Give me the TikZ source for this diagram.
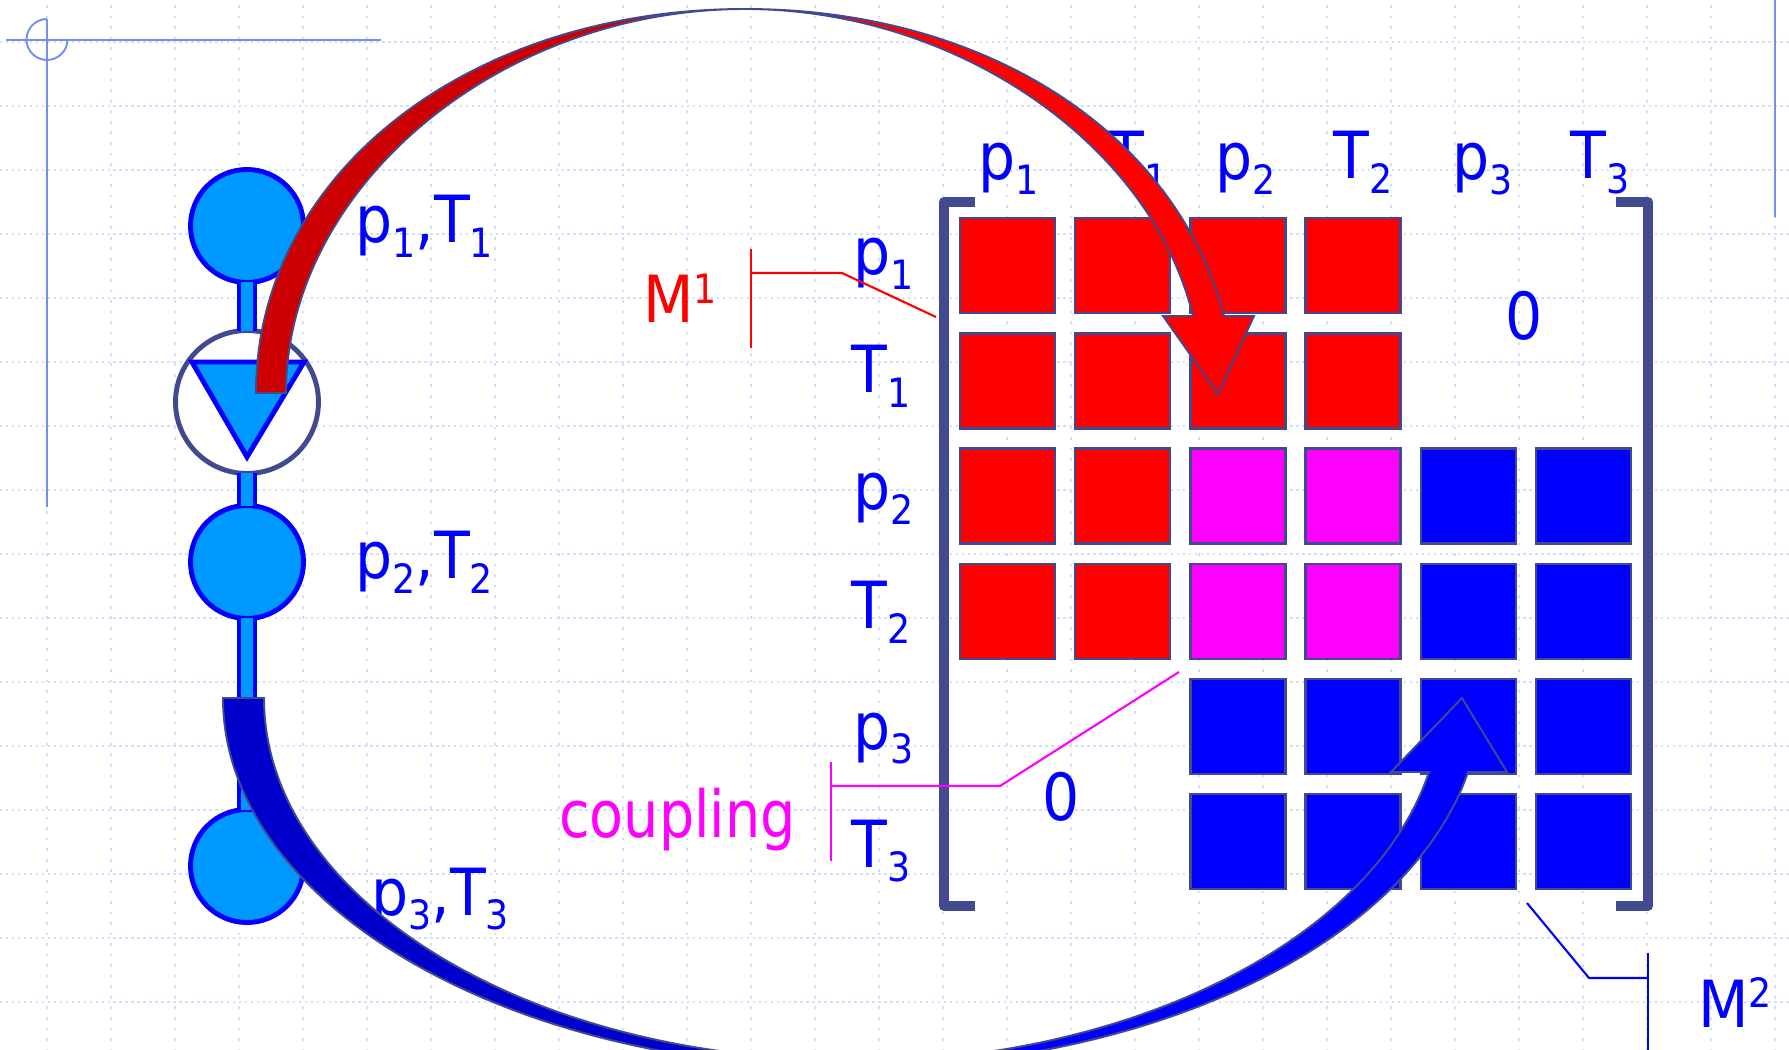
\documentclass[tikz,border=0pt]{standalone}
\usepackage{fontspec}
\setmainfont{DejaVu Sans Condensed}
\newfontfamily\tightFont[FakeStretch=0.95]{DejaVu Sans Condensed}
\definecolor{pipeBlue}{HTML}{0099FF}
\definecolor{edgeNavy}{HTML}{424A8F}
\definecolor{gridBlue}{HTML}{D2DEFF}
\definecolor{cornerBlue}{HTML}{7390F0}
\definecolor{darkRed}{HTML}{CC0000}
\definecolor{darkBlue}{HTML}{0000CC}
\definecolor{pureMagenta}{HTML}{FF00FF}
\newcommand{\sbs}[1]{\raisebox{-8.5pt}{\fontsize{23pt}{23pt}\selectfont #1}}
\newcommand{\sps}[1]{\raisebox{11pt}{\fontsize{23pt}{23pt}\selectfont #1}}
\begin{document}
\begin{tikzpicture}
[x=0.02cm,y=-0.02cm,
gridH/.style={gridBlue,line width=1.1pt,dash pattern=on 1.4pt off 2pt},
gridV/.style={gridBlue,line width=1.1pt,dash pattern=on 1.5pt off 4.5pt},
corner/.style={cornerBlue,line width=1.1pt},
station/.style={circle,draw=blue,fill=pipeBlue,line width=2.8pt,minimum size=2.26cm,inner sep=0pt,outer sep=0pt},
pump/.style={circle,draw=edgeNavy,fill=white,line width=2.8pt,minimum size=2.86cm,inner sep=0pt,outer sep=0pt},
pipe/.style={draw=blue,line width=2.3pt,double=pipeBlue,double distance=7pt},
valve/.style={draw=blue,fill=pipeBlue,line width=2.8pt,line join=miter},
tag/.style={text=blue,anchor=base west,inner sep=0pt,font=\fontsize{37pt}{37pt}\selectfont},
redCell/.style={draw=edgeNavy,fill=red,line width=1.2pt,minimum size=1.9cm,inner sep=0pt},
mixCell/.style={redCell,fill=pureMagenta},
blueCell/.style={redCell,fill=blue},
bracket/.style={edgeNavy,line width=5.8pt,line join=round},
callout/.style={line width=1.2pt},
swoosh/.style={draw=edgeNavy,line width=1.1pt,line join=miter}]
\useasboundingbox (0,0) rectangle (1789,1050);
\clip (0,0) rectangle (1789,1050);
\draw[gridH] (0,42) -- (1789,42);
\draw[gridH] (0,106) -- (1789,106);
\draw[gridH] (0,170) -- (1789,170);
\draw[gridH] (0,234) -- (1789,234);
\draw[gridH] (0,298) -- (1789,298);
\draw[gridH] (0,362) -- (1789,362);
\draw[gridH] (0,426) -- (1789,426);
\draw[gridH] (0,490) -- (1789,490);
\draw[gridH] (0,554) -- (1789,554);
\draw[gridH] (0,618) -- (1789,618);
\draw[gridH] (0,682) -- (1789,682);
\draw[gridH] (0,746) -- (1789,746);
\draw[gridH] (0,810) -- (1789,810);
\draw[gridH] (0,874) -- (1789,874);
\draw[gridH] (0,938) -- (1789,938);
\draw[gridH] (0,1002) -- (1789,1002);
\draw[gridV] (47,5) -- (47,1050);
\draw[gridV] (111,5) -- (111,1050);
\draw[gridV] (175,5) -- (175,1050);
\draw[gridV] (239,5) -- (239,1050);
\draw[gridV] (303,5) -- (303,1050);
\draw[gridV] (367,5) -- (367,1050);
\draw[gridV] (431,5) -- (431,1050);
\draw[gridV] (495,5) -- (495,1050);
\draw[gridV] (559,5) -- (559,1050);
\draw[gridV] (623,5) -- (623,1050);
\draw[gridV] (687,5) -- (687,1050);
\draw[gridV] (751,5) -- (751,1050);
\draw[gridV] (815,5) -- (815,1050);
\draw[gridV] (879,5) -- (879,1050);
\draw[gridV] (943,5) -- (943,1050);
\draw[gridV] (1007,5) -- (1007,1050);
\draw[gridV] (1071,5) -- (1071,1050);
\draw[gridV] (1135,5) -- (1135,1050);
\draw[gridV] (1199,5) -- (1199,1050);
\draw[gridV] (1263,5) -- (1263,1050);
\draw[gridV] (1327,5) -- (1327,1050);
\draw[gridV] (1391,5) -- (1391,1050);
\draw[gridV] (1455,5) -- (1455,1050);
\draw[gridV] (1519,5) -- (1519,1050);
\draw[gridV] (1583,5) -- (1583,1050);
\draw[gridV] (1647,5) -- (1647,1050);
\draw[gridV] (1711,5) -- (1711,1050);
\draw[gridV] (1775,5) -- (1775,1050);
\draw[corner] (6,40) -- (381,40);
\draw[corner] (47,19) -- (47,507);
\draw[corner] (47,19) arc[start angle=90,end angle=360,radius=0.41cm];
\draw[corner] (1775,0) -- (1775,217);
\node[station] (st1) at (247,226) {};
\node[pump] (pu1) at (247,402) {};
\node[station] (st2) at (247,562) {};
\node[station] (st3) at (247,866) {};
\draw[pipe] (st1) -- (pu1);
\draw[pipe] (pu1) -- (st2);
\draw[pipe] (st2) -- (st3);
\draw[valve] (192,362) -- (304,362) -- (247,457) -- cycle;
\node[tag] (leftA) at (355,243) {p\sbs{1},T\sbs{1}};
\node[tag] (leftB) at (355,579) {p\sbs{2},T\sbs{2}};
\node[tag] (leftC) at (371,915) {p\sbs{3},T\sbs{3}};
\node[tag] (colA) at (978,180) {p\sbs{1}};
\node[tag] (colB) at (1108,179) {T\sbs{1}};
\node[tag] (colC) at (1215,180) {p\sbs{2}};
\node[tag] (colD) at (1333,179) {T\sbs{2}};
\node[tag] (colE) at (1452,180) {p\sbs{3}};
\node[tag] (colF) at (1570,179) {T\sbs{3}};
\node[tag] (rowA) at (853,275) {p\sbs{1}};
\node[tag] (rowB) at (851,393) {T\sbs{1}};
\node[tag] (rowC) at (853,510) {p\sbs{2}};
\node[tag] (rowD) at (851,629) {T\sbs{2}};
\node[tag] (rowE) at (853,749) {p\sbs{3}};
\node[tag] (rowF) at (851,867) {T\sbs{3}};
\node[tag,text=red] (mOne) at (643,323) {M\sps{1}};
\node[tag] (mTwo) at (1698,1027) {M\sps{2}};
\node[tag,text=pureMagenta] (coupling) at (559,837) {\tightFont coupling};
\node[tag] (zeroA) at (1505,340) {0};
\node[tag] (zeroB) at (1042,820) {0};
\node[redCell] (c11) at (1007.5,265.5) {};
\node[redCell] (c12) at (1122.5,265.5) {};
\node[redCell] (c13) at (1238,265.5) {};
\node[redCell] (c14) at (1353,265.5) {};
\node[redCell] (c21) at (1007.5,381) {};
\node[redCell] (c22) at (1122.5,381) {};
\node[redCell] (c23) at (1238,381) {};
\node[redCell] (c24) at (1353,381) {};
\node[redCell] (c31) at (1007.5,496) {};
\node[redCell] (c32) at (1122.5,496) {};
\node[mixCell] (c33) at (1238,496) {};
\node[mixCell] (c34) at (1353,496) {};
\node[blueCell] (c35) at (1468.5,496) {};
\node[blueCell] (c36) at (1583.5,496) {};
\node[redCell] (c41) at (1007.5,611.5) {};
\node[redCell] (c42) at (1122.5,611.5) {};
\node[mixCell] (c43) at (1238,611.5) {};
\node[mixCell] (c44) at (1353,611.5) {};
\node[blueCell] (c45) at (1468.5,611.5) {};
\node[blueCell] (c46) at (1583.5,611.5) {};
\node[blueCell] (c53) at (1238,726.5) {};
\node[blueCell] (c54) at (1353,726.5) {};
\node[blueCell] (c55) at (1468.5,726.5) {};
\node[blueCell] (c56) at (1583.5,726.5) {};
\node[blueCell] (c63) at (1238,841.5) {};
\node[blueCell] (c64) at (1353,841.5) {};
\node[blueCell] (c65) at (1468.5,841.5) {};
\node[blueCell] (c66) at (1583.5,841.5) {};
\draw[bracket] (975,202) -- (944,202) -- (944,906) -- (975,906);
\draw[bracket] (1616,202) -- (1648,202) -- (1648,906) -- (1616,906);
\coordinate (mOneTop) at (751,249);
\coordinate (mOneLow) at (751,348);
\coordinate (mOneMid) at (751,273);
\coordinate (mOneBend) at (842,273);
\coordinate (mOneEnd) at (936,317);
\draw[callout,red] (mOneTop) -- (mOneLow);
\draw[callout,red] (mOneMid) -- (mOneBend) -- (mOneEnd);
\coordinate (coupTop) at (831,762);
\coordinate (coupLow) at (831,861);
\coordinate (coupMid) at (831,786);
\coordinate (coupBend) at (1000,786);
\coordinate (coupEnd) at (1179,672);
\draw[callout,pureMagenta] (coupTop) -- (coupLow);
\draw[callout,pureMagenta] (coupMid) -- (coupBend) -- (coupEnd);
\coordinate (mTwoTop) at (1648,953);
\coordinate (mTwoLow) at (1648,1050);
\coordinate (mTwoMid) at (1648,978);
\coordinate (mTwoBend) at (1589,978);
\coordinate (mTwoEnd) at (1527,903);
\draw[callout,blue] (mTwoTop) -- (mTwoLow);
\draw[callout,blue] (mTwoMid) -- (mTwoBend) -- (mTwoEnd);
\filldraw[swoosh,fill=darkRed] (256,393) .. controls (256,175) and (467,9) .. (745,9) .. controls (499,9) and (286,188) .. (286,393) -- cycle;
\filldraw[swoosh,fill=red] (745,9) .. controls (985,9) and (1176,132) .. (1224,316) -- (1254,316) -- (1218,394) -- (1163,316) -- (1193,316) .. controls (1151,143) and (955,9) .. (745,9) -- cycle;
\filldraw[swoosh,fill=darkBlue] (223,698) .. controls (223,902) and (504,1068) .. (850,1068) -- (850,1060) .. controls (526,1060) and (264,898) .. (264,698) -- cycle;
\filldraw[swoosh,fill=blue] (850,1068) .. controls (1150,1068) and (1409,944) .. (1468,772) -- (1507,772) -- (1462,698) -- (1391,772) -- (1429,772) .. controls (1373,940) and (1130,1062) .. (850,1062) -- cycle;
\end{tikzpicture}
\end{document}
